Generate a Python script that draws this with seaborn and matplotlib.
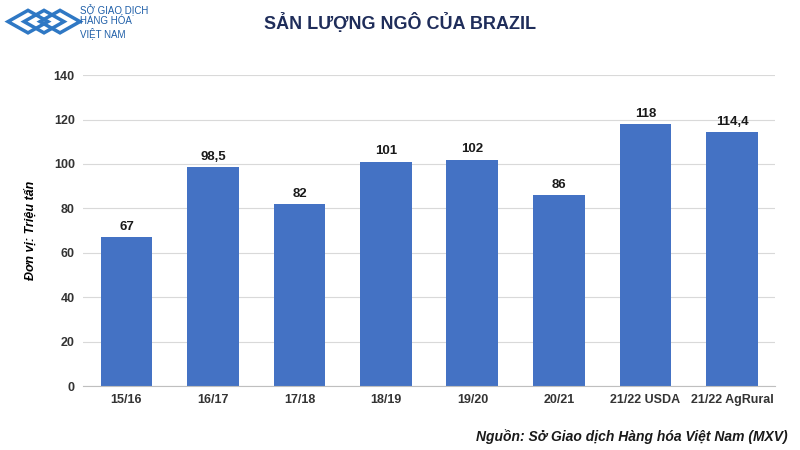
import matplotlib
matplotlib.use("Agg")
import matplotlib.pyplot as plt
import seaborn as sns
import pandas as pd

categories = ["15/16", "16/17", "17/18", "18/19", "19/20", "20/21", "21/22 USDA", "21/22 AgRural"]
values = [67, 98.5, 82, 101, 102, 86, 118, 114.4]
labels = ["67", "98,5", "82", "101", "102", "86", "118", "114,4"]
yticks = [0, 20, 40, 60, 80, 100, 120, 140]

plt.rcParams["font.family"] = "Liberation Sans"
df = pd.DataFrame({"cat": categories, "val": values})
fig = plt.figure(figsize=(8, 4.5), dpi=100)
ax = fig.add_axes([0.104, 0.142, 0.865, 0.691])
sns.barplot(data=df, x="cat", y="val", color="#4472C4", saturation=1, width=0.6, ax=ax)
for i, (v, t) in enumerate(zip(values, labels)):
    ax.text(i, v + 2, t, ha="center", va="bottom", fontsize=9.5, fontweight="bold", color="#1a1a1a")
ax.set_xlim(-0.5, 7.5)
ax.set_ylim(0, 140)
ax.set_yticks(yticks)
ax.yaxis.grid(True, color="#d9d9d9", linewidth=0.8)
ax.set_axisbelow(True)
for s in ["top", "right", "left"]:
    ax.spines[s].set_visible(False)
ax.spines["bottom"].set_color("#bfbfbf")
ax.tick_params(length=0, labelsize=9, pad=6)
for lab in ax.get_xticklabels() + ax.get_yticklabels():
    lab.set_fontweight("bold")
    lab.set_color("#333333")
ax.set_xlabel("")
ax.set_ylabel("Đơn vị: Triệu tấn", fontsize=9, fontweight="bold", style="italic", labelpad=12)
fig.text(0.5, 0.95, "SẢN LƯỢNG NGÔ CỦA BRAZIL", ha="center", va="center", fontsize=13, fontweight="bold", color="#1f2d5a")
fig.text(0.985, 0.03, "Nguồn: Sở Giao dịch Hàng hóa Việt Nam (MXV)", ha="right", va="center", fontsize=10, fontweight="bold", style="italic", color="#1a1a1a")
fig.text(0.1, 0.952, "SỞ GIAO DỊCH\nHÀNG HÓA\nVIỆT NAM", ha="left", va="center", fontsize=7, color="#1f5fa8", linespacing=1.1)
for k in range(3):
    fig.patches.append(matplotlib.patches.RegularPolygon((0.035 + k * 0.02, 0.952), 4, radius=0.025, orientation=0,
        transform=fig.transFigure, fill=False, edgecolor="#2f78c4", linewidth=2.5))
fig.savefig("out.png")
